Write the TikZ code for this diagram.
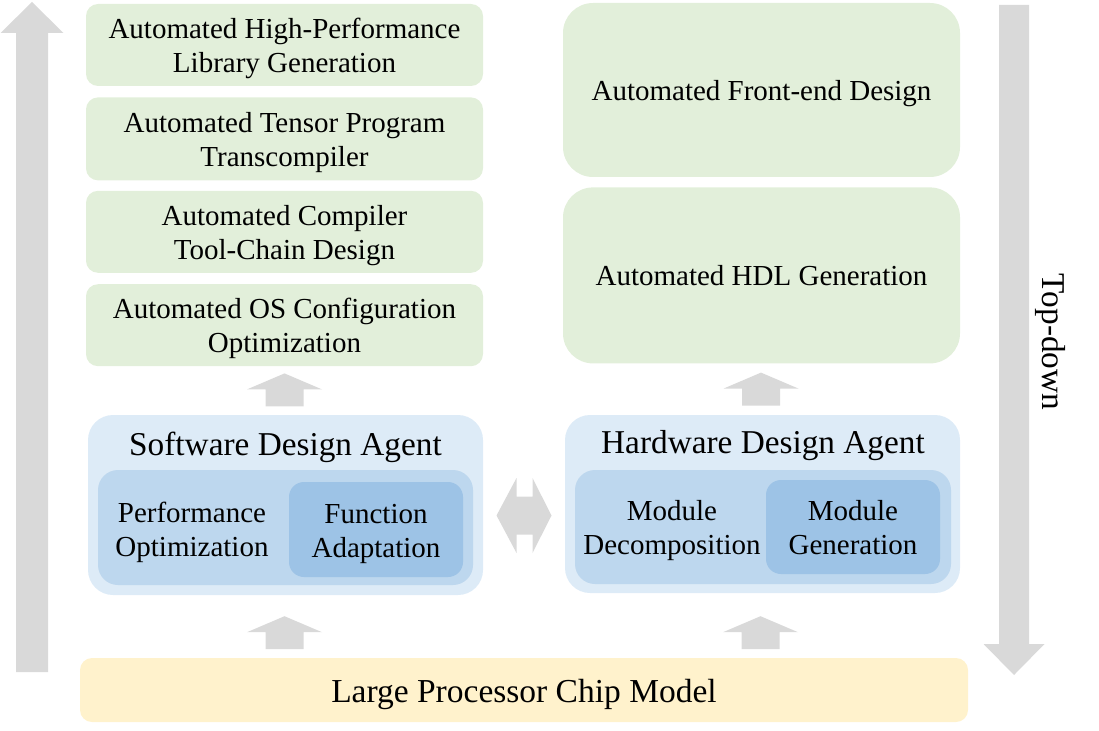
\documentclass[tikz,border=0pt]{standalone}
\usepackage{fontspec}
\setmainfont{Liberation Serif}
\usetikzlibrary{positioning, calc}

\definecolor{taskgreen}{HTML}{E2EFDA}
\definecolor{agentblue}{HTML}{DDEBF7}
\definecolor{midblue}{HTML}{BDD7EE}
\definecolor{coreblue}{HTML}{9DC3E6}
\definecolor{chipyellow}{HTML}{FFF2CC}
\definecolor{arrgray}{HTML}{D9D9D9}

\newcommand{\topstrut}{\rule{0pt}{0.98em}}
\newcommand{\botstrut}{\rule[-0.25em]{0pt}{0pt}}
\newcommand{\twolines}[2]{\topstrut#1\\#2\botstrut}

\tikzset{
    txt/.style={align=center, inner sep=0pt, execute at begin node=\topstrut, execute at end node=\botstrut},
    task/.style={txt, fill=taskgreen, rounded corners=12pt, minimum width=397pt,
        font=\fontsize{29}{34}\selectfont},
    bigtask/.style={task, rounded corners=30pt},
    agent/.style={fill=agentblue, rounded corners=25pt, minimum width=395pt, inner sep=0pt},
    agentin/.style={fill=midblue, rounded corners=20pt, minimum width=376pt, inner sep=0pt},
    core/.style={txt, fill=coreblue, rounded corners=15pt, minimum width=174pt,
        font=\fontsize{29}{34}\selectfont},
    plain/.style={txt, font=\fontsize{29}{34}\selectfont},
    title/.style={txt, font=\fontsize{33.3}{38}\selectfont},
    uparr/.pic={\fill[arrgray] (0,0) -- (37.5,-16) -- (19,-16) -- (19,-33) -- (-19,-33)
        -- (-19,-16) -- (-37.5,-16) -- cycle;},
    bothways/.pic={\fill[arrgray] (-27.5,0) -- (-7.5,37.5) -- (-7.5,19) -- (8.5,19) -- (8.5,37.5)
        -- (27.5,0) -- (8.5,-37.5) -- (8.5,-19) -- (-7.5,-19) -- (-7.5,-37.5) -- cycle;}
}

\begin{document}
\begin{tikzpicture}[x=1pt, y=1pt]
    \useasboundingbox (0,0) rectangle (1099,-730);

    % software tasks
    \node[task, minimum height=82pt] (lib) at (284.5,-45) {\twolines{Automated High-Performance}{Library Generation}};
    \node[task, minimum height=83pt, below=11pt of lib] (tens) {\twolines{Automated Tensor Program}{Transcompiler}};
    \node[task, minimum height=82pt, below=10pt of tens] (comp) {\twolines{Automated Compiler}{Tool-Chain Design}};
    \node[task, minimum height=82pt, below=11pt of comp] (os) {\twolines{Automated OS Configuration}{Optimization}};

    % hardware tasks
    \node[bigtask, minimum height=174pt] (fe) at (761.5,-90) {Automated Front-end Design};
    \node[bigtask, minimum height=176pt, below=10pt of fe] (hdl) {Automated HDL Generation};

    % agents
    \node[agent, minimum height=180pt] (sw) at (285.5,-505) {};
    \node[title] (swt) at (285.5,-443) {Software Design Agent};
    \node[agentin, minimum width=375pt, minimum height=115pt] (swin) at (285.5,-527.5) {};
    \node[core, minimum height=95pt] (fa) at (376,-529.5) {\twolines{Function}{Adaptation}};
    \node[plain] (po) at (192,-529) {\twolines{Performance}{Optimization}};

    \node[agent, minimum height=178pt] (hw) at (762.5,-504) {};
    \node[title] (hwt) at (763,-441) {Hardware Design Agent};
    \node[agentin, minimum height=114pt] (hwin) at (763,-527) {};
    \node[core, minimum height=94pt] (mg) at (853,-527) {\twolines{Module}{Generation}};
    \node[plain] (md) at (672,-527) {\twolines{Module}{Decomposition}};

    \node[txt, fill=chipyellow, rounded corners=12pt, minimum width=888pt, minimum height=64pt,
        font=\fontsize{33.5}{38}\selectfont] (chip) at (524,-690) {Large Processor Chip Model};

    \node[title, rotate=-90] (td) at (1055,-342) {Top-down};

    % block arrows
    \pic at ($(os.south)+(0,-7)$) {uparr};
    \pic at ($(hdl.south)+(-0.5,-9)$) {uparr};
    \pic at ($(sw.south)+(-1,-21)$) {uparr};
    \pic at ($(hw.south)+(-2,-23)$) {uparr};
    \pic at ($(sw.east)!0.5!(hw.west)+(0,-11)$) {bothways};

    \fill[arrgray] (32,-2) -- (63.5,-33) -- (48,-33) -- (48,-672) -- (16,-672) -- (16,-33) -- (0.5,-33) -- cycle;
    \fill[arrgray] (1014,-675) -- (1044.5,-644) -- (1029,-644) -- (1029,-5) -- (999,-5) -- (999,-644) -- (983.5,-644) -- cycle;
\end{tikzpicture}
\end{document}
